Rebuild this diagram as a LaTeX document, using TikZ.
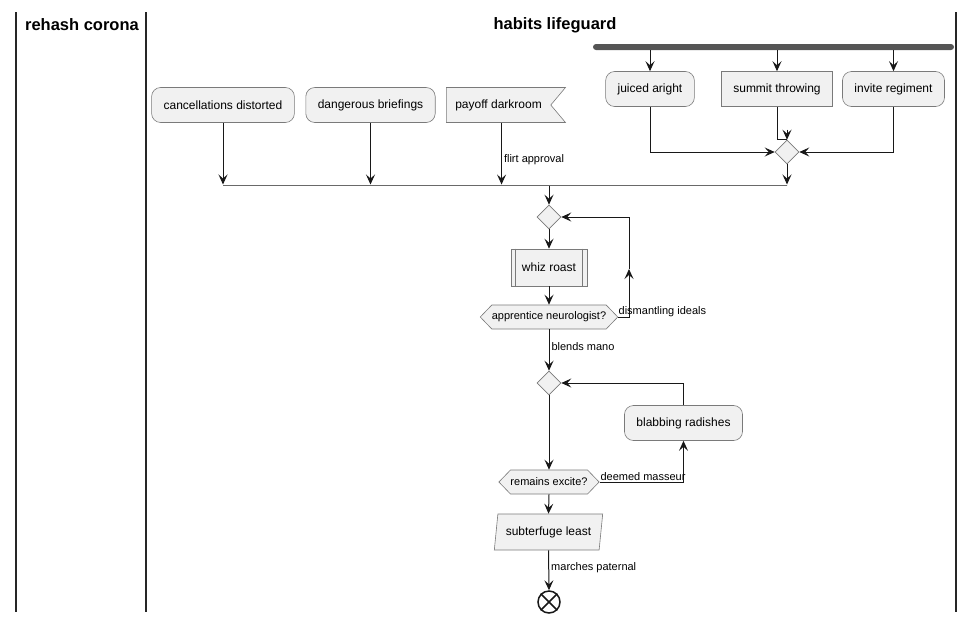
\documentclass[tikz,border=0pt]{standalone}
\usepackage{fontspec}
\setmainfont{Liberation Sans}
\usetikzlibrary{arrows.meta,shapes.geometric,shapes.symbols}
\definecolor{actfill}{HTML}{F1F1F1}
\definecolor{actline}{HTML}{181818}
\definecolor{actborder}{HTML}{7A7A7A}
\definecolor{barfill}{HTML}{555555}
\tikzset{
  action/.style={draw=actborder, fill=actfill, line width=0.6pt, rounded corners=9pt,
    minimum height=35pt, inner xsep=12pt, font=\fontsize{12}{14}\selectfont},
  plainbox/.style={action, sharp corners},
  flagbox/.style={action, sharp corners, signal, signal from=east, signal to=nowhere,
    signal pointer angle=100, inner xsep=9pt},
  branch/.style={diamond, draw=actborder, fill=actfill, line width=0.6pt,
    minimum width=24pt, minimum height=24pt, inner sep=0pt},
  hexbox/.style={signal, signal to=east and west, signal pointer angle=92,
    draw=actborder, fill=actfill, line width=0.6pt, minimum height=24pt,
    inner xsep=0pt, font=\fontsize{11}{13}\selectfont},
  flow/.style={-{Stealth[length=10pt,width=9pt,inset=4pt]}, line width=1pt, draw=actline},
  edgelabel/.style={font=\fontsize{11}{13}\selectfont, inner sep=2pt},
  lane/.style={line width=1.5pt, draw=black!85},
  lanetitle/.style={font=\fontsize{16.5}{19}\selectfont\bfseries},
}
\begin{document}
\begin{tikzpicture}[x=1pt,y=-1pt]
  \useasboundingbox (0,0) rectangle (977,622);
  % swimlanes
  \draw[lane] (16,12) -- (16,612);
  \draw[lane] (146,12) -- (146,612);
  \draw[lane] (956,12) -- (956,612);
  \node[lanetitle] (laneA) at (82,25) {rehash corona};
  \node[lanetitle] (laneB) at (555,25) {habits lifeguard};

  % fork and its three branches
  \node[fill=barfill, rounded corners=3pt, minimum width=361pt, minimum height=6pt,
    inner sep=0pt] (fork) at (773.5,47) {};
  \node[action] (ja) at (650,89) {juiced aright};
  \node[plainbox] (st) at (777,89) {summit throwing};
  \node[action] (ir) at (893.5,89) {invite regiment};
  \node[branch] (merge) at (787,152) {};
  \foreach \n in {ja,st,ir}
    \draw[flow] (fork.south -| \n) -- (\n.north);
  \draw[flow] (ja.south) |- (merge.west);
  \draw[flow] (ir.south) |- (merge.east);
  \draw[line width=1pt, draw=actline] (st.south) |- (merge.north);
  \draw[flow] ([yshift=10pt]merge.north) -- (merge.north);

  % left row
  \node[action] (ca) at (223,105) {cancellations distorted};
  \node[action] (db) at (370.5,105) {dangerous briefings};
  \node[flagbox, anchor=west] (pd) at (446,105) {payoff darkroom};
  \node[draw=actline, line width=1pt, minimum width=564pt, minimum height=0pt,
    inner sep=0pt] (join) at (505,185) {};
  \draw[flow] (ca.south) -- (ca.south |- join.north);
  \draw[flow] (db.south) -- (db.south |- join.north);
  \draw[flow] ([xshift=3pt]pd.south) -- ([xshift=3pt]pd.south |- join.north)
    node[edgelabel, pos=0.6, right] {flirt approval};
  \draw[flow] (merge.south) -- (merge.south |- join.north);

  % first loop
  \node[branch] (d2) at (549,217) {};
  \draw[flow] (join.south -| d2) -- (d2.north);
  \node[plainbox, inner xsep=11pt, minimum height=37pt] (wr) at (549,267.5) {whiz roast};
  \draw[draw=actborder, line width=0.6pt]
    ([xshift=5pt]wr.north west) -- ([xshift=5pt]wr.south west)
    ([xshift=-5pt]wr.north east) -- ([xshift=-5pt]wr.south east);
  \node[hexbox] (an) at (549,317) {apprentice neurologist?};
  \draw[flow] (d2.south) -- (wr.north);
  \draw[flow] (wr.south) -- (an.north);
  \coordinate (back) at (629,269);
  \draw[flow] (an.east) -| (back)
    node[edgelabel, pos=0, anchor=south west, inner sep=0pt] {dismantling ideals};
  \draw[flow] (back) |- (d2.east);

  % second loop
  \node[branch] (d3) at (549,383) {};
  \draw[flow] (an.south) -- (d3.north)
    node[edgelabel, pos=0.42, right] {blends mano};
  \node[action] (br) at (683.5,423) {blabbing radishes};
  \draw[flow] (br.north) |- (d3.east);
  \node[hexbox] (re) at (549,482) {remains excite?};
  \draw[flow] (d3.south) -- (re.north);
  \draw[flow] (re.east) -| (br.south)
    node[edgelabel, pos=0, anchor=south west, inner sep=0.5pt] {deemed masseur};

  % end
  \node[trapezium, trapezium left angle=80, trapezium right angle=100,
    trapezium stretches=true, draw=actborder, fill=actfill, line width=0.6pt,
    minimum width=109pt, minimum height=36pt, inner xsep=2pt,
    font=\fontsize{12}{14}\selectfont] (sl) at (548.5,532) {subterfuge least};
  \draw[flow] (re.south) -- (sl.north);
  \node[circle, draw=actline, line width=1.5pt, minimum size=22pt, inner sep=0pt,
    fill=white] (stop) at (549,602) {};
  \draw[draw=actline, line width=1.5pt] (stop.45) -- (stop.225) (stop.135) -- (stop.315);
  \draw[flow] (sl.south) -- (stop.north)
    node[edgelabel, pos=0.43, right] {marches paternal};
\end{tikzpicture}
\end{document}
